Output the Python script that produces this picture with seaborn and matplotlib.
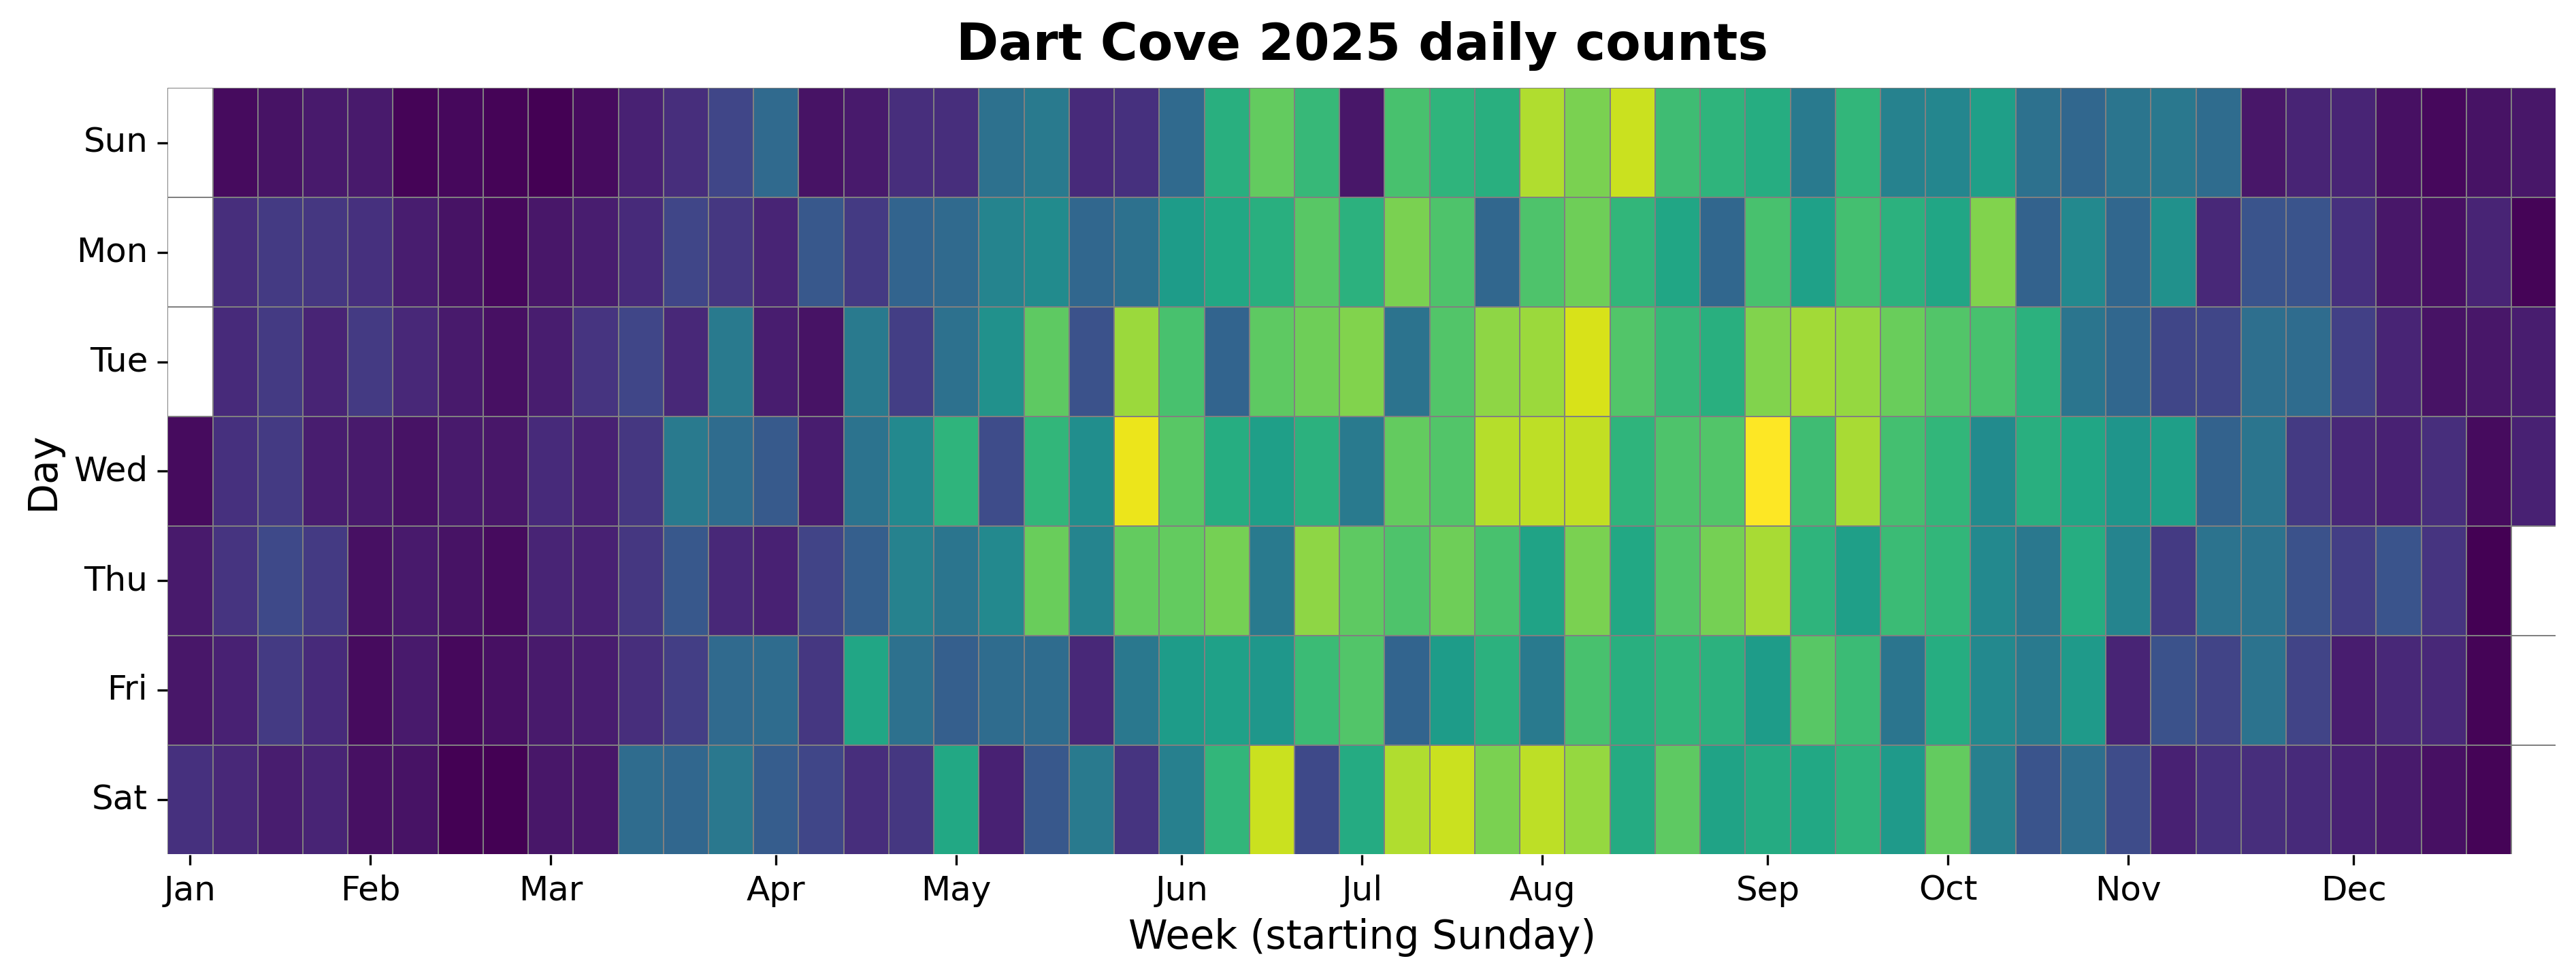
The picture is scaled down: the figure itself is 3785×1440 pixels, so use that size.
import numpy as np
import pandas as pd
import matplotlib
matplotlib.use("Agg")
import matplotlib.pyplot as plt
from matplotlib.transforms import Bbox
import seaborn as sns

days = ["Sun", "Mon", "Tue", "Wed", "Thu", "Fri", "Sat"]
month_names = ["Jan", "Feb", "Mar", "Apr", "May", "Jun", "Jul", "Aug", "Sep", "Oct", "Nov", "Dec"]
# week column in which each month starts
month_weeks = [0, 4, 8, 13, 17, 22, 26, 30, 35, 39, 43, 48]

nan = np.nan
sun = [nan, 3, 5, 7, 7, 1, 2, 1, 0, 3, 9, 13, 21, 34, 5, 7, 13, 13, 37, 41, 12, 14, 34, 63, 76, 67, 6, 71, 65, 63,
       88, 80, 92, 69, 65, 62, 41, 66, 44, 46, 56, 37, 33, 39, 40, 35, 6, 10, 10, 4, 2, 5, 6]
mon = [nan, 13, 17, 16, 14, 8, 5, 2, 6, 8, 12, 21, 16, 10, 27, 17, 32, 34, 45, 48, 33, 37, 55, 60, 63, 74, 64, 80, 72, 33,
       72, 78, 66, 59, 33, 71, 57, 70, 64, 59, 81, 31, 47, 33, 50, 11, 26, 26, 14, 6, 4, 10, 1]
tue = [nan, 12, 17, 10, 17, 11, 7, 4, 8, 15, 21, 11, 41, 8, 5, 41, 18, 37, 50, 75, 25, 85, 71, 32, 75, 78, 81, 38, 73, 83,
       85, 94, 73, 67, 63, 81, 86, 84, 77, 73, 71, 64, 39, 33, 21, 21, 36, 35, 19, 10, 5, 6, 8]
wed = [3, 14, 17, 8, 7, 5, 7, 6, 12, 9, 16, 41, 35, 28, 8, 38, 47, 65, 23, 66, 49, 97, 74, 62, 56, 64, 41, 76, 73, 89,
       90, 91, 65, 72, 73, 100, 69, 87, 70, 66, 48, 63, 59, 52, 56, 31, 39, 17, 11, 9, 13, 3, 9]
thu = [7, 15, 22, 17, 4, 7, 5, 3, 10, 9, 16, 27, 11, 9, 20, 30, 44, 39, 47, 77, 45, 76, 76, 79, 41, 83, 75, 72, 78, 71,
       58, 80, 60, 73, 79, 87, 65, 56, 68, 66, 47, 40, 62, 45, 17, 38, 38, 25, 18, 26, 15, 0, nan]
fri = [6, 9, 17, 12, 3, 7, 2, 4, 7, 8, 13, 18, 34, 35, 16, 59, 37, 30, 35, 35, 11, 40, 55, 57, 53, 68, 73, 32, 55, 64,
       41, 71, 63, 66, 64, 55, 74, 68, 39, 62, 47, 41, 54, 10, 25, 20, 38, 20, 8, 11, 11, 1, nan]
sat = [14, 11, 8, 10, 4, 5, 0, 0, 6, 6, 35, 33, 40, 29, 21, 13, 16, 60, 9, 27, 41, 15, 43, 66, 92, 22, 61, 88, 92, 80,
       90, 84, 61, 75, 58, 61, 60, 65, 54, 76, 43, 26, 36, 23, 9, 14, 13, 12, 9, 7, 4, 1, nan]

counts = pd.DataFrame([sun, mon, tue, wed, thu, fri, sat], index=days)

fig, ax = plt.subplots(figsize=(3785 / 300, 1440 / 300), dpi=300)
sns.heatmap(counts, cmap="viridis", cbar=False, linewidths=0.1, linecolor="gray", ax=ax)

# month labels sit on the week they start in
ax.set_xticks([w + 0.5 for w in month_weeks])
ax.set_xticklabels(month_names, rotation=0, fontsize=12)
ax.set_yticklabels(days, rotation=0, fontsize=12)
ax.set_xlabel("Week (starting Sunday)", fontsize=14)
ax.set_ylabel("Day", fontsize=14)
ax.set_title("Dart Cove 2025 daily counts", fontsize=18, fontweight="bold", pad=10)

fig.subplots_adjust(left=246.3 / 3785, right=3756.4 / 3785, top=1 - 129.3 / 1440, bottom=1 - 1255.5 / 1440)

# right and bottom grid edges fall outside the plot area
box = ax.get_window_extent()
ax.collections[0].set_clip_box(Bbox([[box.x0, box.y0 + 1], [box.x1 - 1, box.y1]]))

fig.savefig("out.png", dpi=300)
